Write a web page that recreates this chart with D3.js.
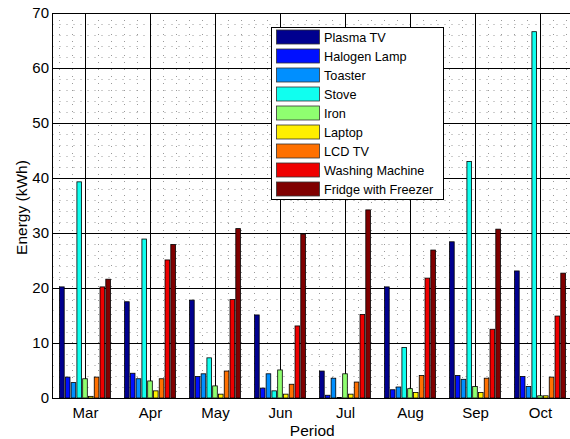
<!DOCTYPE html>
<html>
<head>
<meta charset="utf-8">
<script src="https://cdn.jsdelivr.net/npm/d3@7"></script>
<style>
  html, body { margin: 0; padding: 0; background: #fff; }
  svg { display: block; font-family: "Liberation Sans", Arial, sans-serif; }
</style>
</head>
<body>
<svg id="chart" width="570" height="439"></svg>
<script>
// ---- data ----
const months = ["Mar", "Apr", "May", "Jun", "Jul", "Aug", "Sep", "Oct"];
const seriesNames = ["Plasma TV", "Halogen Lamp", "Toaster", "Stove", "Iron", "Laptop", "LCD TV", "Washing Machine", "Fridge with Freezer"];
const plasmaTV       = [20.2, 17.5, 17.8, 15.1, 4.9, 20.2, 28.4, 23.1];
const halogenLamp    = [3.8, 4.5, 3.9, 1.8, 0.5, 1.5, 4.1, 3.9];
const toaster        = [2.8, 3.5, 4.4, 4.4, 3.6, 2.0, 3.4, 2.1];
const stove          = [39.3, 28.9, 7.3, 1.3, 0.1, 9.2, 43.0, 66.6];
const iron           = [3.5, 3.1, 2.2, 5.1, 4.4, 1.7, 2.1, 0.4];
const laptop         = [0.3, 1.3, 0.7, 0.7, 0.7, 1.0, 1.0, 0.4];
const lcdTV          = [3.8, 3.5, 4.9, 2.5, 2.9, 4.1, 3.6, 3.8];
const washingMachine = [20.2, 25.1, 17.9, 13.1, 15.2, 21.8, 12.5, 14.9];
const fridge         = [21.6, 27.9, 30.8, 29.8, 34.2, 26.9, 30.7, 22.7];
const yTicks = [0, 10, 20, 30, 40, 50, 60, 70];
const colors = ["#00008F", "#0010FF", "#008FFF", "#10FFEF", "#8FFF70", "#FFEF00", "#FF7000", "#EF0000", "#800000"];

const seriesValues = [plasmaTV, halogenLamp, toaster, stove, iron, laptop, lcdTV, washingMachine, fridge];

// ---- layout ----
const L = 52.5, R = 572.5, T = 13, B = 398;
const svg = d3.select("#chart");
const x = d3.scaleLinear().domain([0.5, 8.5]).range([L, R]);
const y = d3.scaleLinear().domain([0, 70]).range([B, T]);

const g = svg.append("g");

// minor grid (dotted)
const minorY = d3.range(0, 70.001, 2).filter(v => v % 10 !== 0);
g.selectAll(".minY").data(minorY).enter().append("line")
  .attr("x1", L).attr("x2", R).attr("y1", d => Math.round(y(d)) + 0.5).attr("y2", d => Math.round(y(d)) + 0.5)
  .attr("stroke", "#9a9a9a").attr("stroke-width", 1).attr("stroke-dasharray", "1,6");
const minorX = d3.range(0.6, 8.5, 0.2).filter(v => Math.abs(v - Math.round(v)) > 0.05);
g.selectAll(".minX").data(minorX).enter().append("line")
  .attr("y1", T).attr("y2", B).attr("x1", d => Math.round(x(d)) + 0.5).attr("x2", d => Math.round(x(d)) + 0.5)
  .attr("stroke", "#9a9a9a").attr("stroke-width", 1).attr("stroke-dasharray", "1,6");

// major grid
g.selectAll(".majY").data(yTicks.slice(1)).enter().append("line")
  .attr("x1", L).attr("x2", R).attr("y1", d => Math.round(y(d)) + 0.5).attr("y2", d => Math.round(y(d)) + 0.5)
  .attr("stroke", "#000").attr("stroke-width", 1);
g.selectAll(".majX").data(months).enter().append("line")
  .attr("y1", T).attr("y2", B).attr("x1", (d, i) => Math.round(x(i + 1)) + 0.5).attr("x2", (d, i) => Math.round(x(i + 1)) + 0.5)
  .attr("stroke", "#000").attr("stroke-width", 1);

// bars
const nS = seriesNames.length;
const slot = 0.8 / nS;
const bw = slot * 0.8;
seriesValues.forEach((vals, j) => {
  g.selectAll(".bar" + j).data(vals).enter().append("rect")
    .attr("x", (d, i) => x(i + 1 + (j - (nS - 1) / 2) * slot - bw / 2))
    .attr("width", x(bw) - x(0))
    .attr("y", d => y(d))
    .attr("height", d => y(0) - y(d))
    .attr("fill", colors[j])
    .attr("stroke", "#000")
    .attr("stroke-width", 0.8);
});

// axes box
g.append("rect").attr("x", L).attr("y", T + 0.5).attr("width", R - L).attr("height", B - T)
  .attr("fill", "none").attr("stroke", "#000").attr("stroke-width", 1);

// y tick labels
const yAxis = d3.axisLeft(y).tickValues(yTicks).tickSize(0).tickPadding(3.5);
const ya = svg.append("g").attr("transform", `translate(${L},0)`).call(yAxis);
ya.select(".domain").remove();
ya.selectAll("text").attr("font-size", 15).attr("fill", "#000").attr("font-family", "Liberation Sans, Arial, sans-serif");

// x tick labels
const xAxis = d3.axisBottom(x).tickValues(d3.range(1, 9)).tickFormat((d) => months[d - 1]).tickSize(0).tickPadding(9);
const xa = svg.append("g").attr("transform", `translate(0,${B})`).call(xAxis);
xa.select(".domain").remove();
xa.selectAll("text").attr("font-size", 15).attr("fill", "#000").attr("font-family", "Liberation Sans, Arial, sans-serif");

// axis labels
svg.append("text").attr("x", (L + 572) / 2).attr("y", 436).attr("text-anchor", "middle")
  .attr("font-size", 15.5).text("Period");
svg.append("text").attr("transform", `translate(27,${(T + B) / 2 + 2}) rotate(-90)`).attr("text-anchor", "middle")
  .attr("font-size", 15.5).text("Energy (kWh)");

// legend
const lg = svg.append("g");
lg.append("rect").attr("x", 271.5).attr("y", 27.5).attr("width", 172).attr("height", 172)
  .attr("fill", "#fff").attr("stroke", "#000").attr("stroke-width", 1);
seriesNames.forEach((name, j) => {
  const cy = 37 + j * 19;
  lg.append("rect").attr("x", 276.5).attr("y", cy - 7).attr("width", 43).attr("height", 14)
    .attr("fill", colors[j]).attr("stroke", "#333").attr("stroke-width", 0.8);
  lg.append("text").attr("x", 324).attr("y", cy + 5).attr("font-size", 12.7).text(name);
});
</script>
</body>
</html>
